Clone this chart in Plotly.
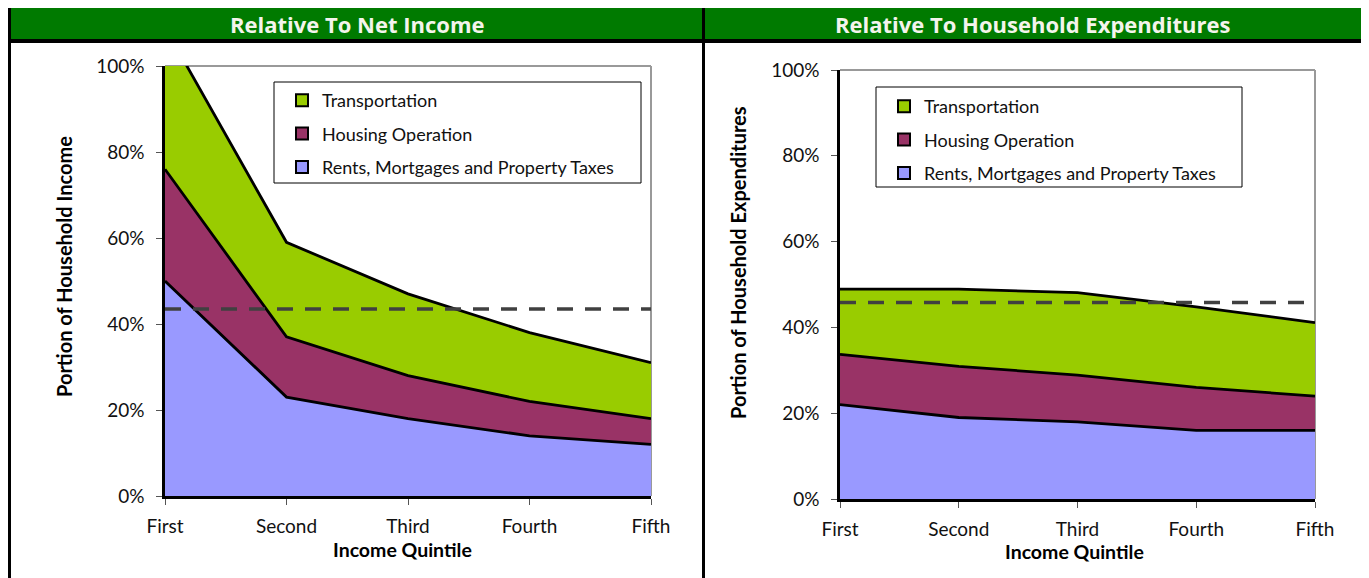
import plotly.graph_objects as go

W, H = 1369, 578
OX, OY = 8, 8  # page body margin

quintiles = ["First", "Second", "Third", "Fourth", "Fifth"]
series_names = ["Rents, Mortgages and Property Taxes", "Housing Operation", "Transportation"]
series_colors = ["#9999ff", "#993366", "#99cc00"]

# stacked components, % of net income
income_rents = [50, 23, 18, 14, 12]
income_housing = [26, 14, 10, 8, 6]
income_transport = [33, 22, 19, 16, 13]
income_benchmark = 43.5

# stacked components, % of household expenditures
expend_rents = [22, 19, 18, 16, 16]
expend_housing = [11.7, 11.9, 10.9, 10, 8]
expend_transport = [15.2, 18, 19.2, 18.8, 17.1]
expend_benchmark = 45.8

y_ticks = [0, 20, 40, 60, 80, 100]
y_ticktext = ["0%", "20%", "40%", "60%", "80%", "100%"]

FONT = "Lato"


def px(x):
    return (x - OX) / W


def py(y):
    return 1 - (y - OY) / H


fig = go.Figure()

panels = [
    ("x", "y", [income_rents, income_housing, income_transport], income_benchmark, "legend", "p1"),
    ("x2", "y2", [expend_rents, expend_housing, expend_transport], expend_benchmark, "legend2", "p2"),
]

xi = list(range(len(quintiles)))
for xa, ya, comps, bench, leg, grp in panels:
    for name, vals, col in zip(series_names, comps, series_colors):
        fig.add_trace(go.Scatter(
            x=xi, y=vals, xaxis=xa, yaxis=ya, name=name,
            stackgroup=grp, mode="lines",
            line=dict(color="black", width=2.8),
            fillcolor=col, showlegend=False, hoverinfo="skip",
        ))
    fig.add_trace(go.Scatter(
        x=[xi[0], xi[-1]], y=[bench, bench], xaxis=xa, yaxis=ya,
        mode="lines", line=dict(color="#404040", width=3.5, dash="16px,12px"),
        showlegend=False, hoverinfo="skip",
    ))
    # legend entries (top to bottom)
    for i, (name, col) in enumerate(reversed(list(zip(series_names, series_colors)))):
        fig.add_trace(go.Scatter(
            x=[None], y=[None], xaxis=xa, yaxis=ya, name=name, mode="markers",
            marker=dict(symbol="square", size=12, color=col, line=dict(color="black", width=2)),
            legend=leg, legendgroup=f"{grp}{i}", showlegend=True,
        ))

axis_common = dict(showgrid=False, zeroline=False, showline=True, linecolor="black", linewidth=2.5,
                   ticks="outside", ticklen=6, tickcolor="#555555", tickwidth=1, automargin=False,
                   tickfont=dict(family=FONT, size=19, color="#111111"))

fig.update_layout(
    width=W, height=H,
    margin=dict(l=0, r=0, t=0, b=0, pad=0, autoexpand=False),
    paper_bgcolor="white", plot_bgcolor="white",
    font=dict(family=FONT, color="black"),
    xaxis=dict(domain=[px(165), px(651)], range=[0, 4], tickvals=xi, ticktext=quintiles,
               anchor="y", ticklabelstandoff=5, **axis_common),
    yaxis=dict(domain=[py(496), py(66)], range=[0, 100], tickvals=y_ticks, ticktext=y_ticktext,
               anchor="x", ticklabelstandoff=8, **axis_common),
    xaxis2=dict(domain=[px(840), px(1315)], range=[0, 4], tickvals=xi, ticktext=quintiles,
                anchor="y2", ticklabelstandoff=5, **axis_common),
    yaxis2=dict(domain=[py(499), py(70)], range=[0, 100], tickvals=y_ticks, ticktext=y_ticktext,
                anchor="x2", ticklabelstandoff=8, **axis_common),
    legend=dict(x=px(282), y=py(82), xanchor="left", yanchor="top", bgcolor="rgba(0,0,0,0)",
                font=dict(family=FONT, size=18, color="#111111"), tracegroupgap=7,
                itemclick=False),
    legend2=dict(x=px(884), y=py(88), xanchor="left", yanchor="top", bgcolor="rgba(0,0,0,0)",
                 font=dict(family=FONT, size=18, color="#111111"), tracegroupgap=7,
                 itemclick=False),
)

shapes = []
# gray top/right frame of each plot area
for xa, ya in [("x", "y"), ("x2", "y2")]:
    shapes.append(dict(type="line", xref=f"{xa} domain", yref=f"{ya} domain", x0=0, x1=1, y0=1, y1=1,
                       line=dict(color="#999999", width=2), layer="below"))
    shapes.append(dict(type="line", xref=f"{xa} domain", yref=f"{ya} domain", x0=1, x1=1, y0=0, y1=1,
                       line=dict(color="#999999", width=2), layer="below"))
# legend boxes
shapes.append(dict(type="rect", xref="paper", yref="paper", x0=px(274), x1=px(641), y0=py(183), y1=py(82),
                   line=dict(color="black", width=1), fillcolor="white", layer="below"))
shapes.append(dict(type="rect", xref="paper", yref="paper", x0=px(876), x1=px(1242), y0=py(187), y1=py(87),
                   line=dict(color="black", width=1), fillcolor="white", layer="below"))
# header bar and outer frame
shapes.append(dict(type="rect", xref="paper", yref="paper", x0=px(10), x1=px(1363), y0=py(40), y1=py(6),
                   line=dict(width=0), fillcolor="#007a00"))
shapes.append(dict(type="line", xref="paper", yref="paper", x0=px(9), x1=px(1365), y0=py(41), y1=py(41),
                   line=dict(color="black", width=4)))
for xb in (9.5, 703.5, 1363.5):
    shapes.append(dict(type="line", xref="paper", yref="paper", x0=px(xb), x1=px(xb), y0=0, y1=py(4),
                       line=dict(color="black", width=3)))
fig.update_layout(shapes=shapes)

annotations = [
    dict(text="<b>Relative To Net Income</b>", x=px(357), y=py(24)),
    dict(text="<b>Relative To Household Expenditures</b>", x=px(1032), y=py(24)),
]
for a in annotations:
    a.update(xref="paper", yref="paper", showarrow=False, xanchor="center", yanchor="middle",
             font=dict(family="Open Sans", size=22, color="#f4f4ec"))
titles = [
    dict(text="<b>Portion of Household Income</b>", x=px(64), y=py(267), textangle=-90, size=20),
    dict(text="<b>Portion of Household Expenditures</b>", x=px(738), y=py(262), textangle=-90, size=20),
    dict(text="<b>Income Quintile</b>", x=px(402), y=py(549), size=19.5),
    dict(text="<b>Income Quintile</b>", x=px(1074), y=py(551), size=19.5),
]
for a in titles:
    size = a.pop("size")
    a.update(xref="paper", yref="paper", showarrow=False, xanchor="center", yanchor="middle",
             font=dict(family=FONT, size=size, color="black"))
fig.update_layout(annotations=annotations + titles)

fig.write_html("out.html")
